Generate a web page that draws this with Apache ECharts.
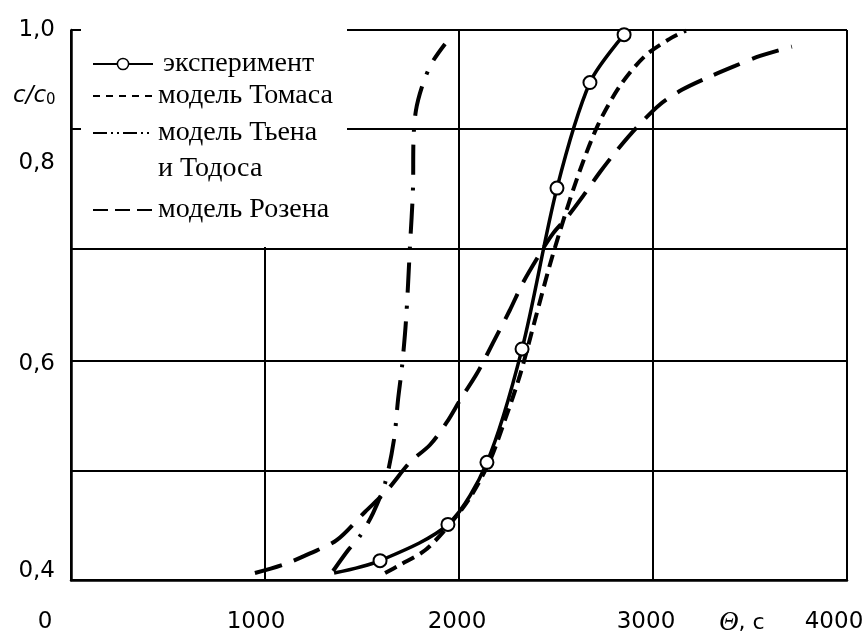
<!DOCTYPE html>
<html>
<head>
<meta charset="utf-8">
<script src="https://cdn.jsdelivr.net/npm/echarts@6/dist/echarts.min.js"></script>
<style>
  html, body { margin: 0; padding: 0; background: #fff; }
  #chart { width: 867px; height: 637px; }
</style>
</head>
<body>
<div id="chart"></div>
<script>
// Breakthrough curves: relative concentration c/c0 against time Θ, s

// experiment (first point is where the drawn curve begins, without a marker)
const expTime = [1356, 1593, 1943, 2144, 2325, 2505, 2675, 2851];
const expConc = [0.398, 0.410, 0.445, 0.505, 0.615, 0.775, 0.921, 0.993];

// Thomas model
const thomasTime = [1619, 1696, 1825, 1943, 2057, 2160, 2237, 2314, 2392, 2469, 2546, 2624, 2716, 2830, 2959, 3088, 3170];
const thomasConc = [0.398, 0.406, 0.420, 0.443, 0.471, 0.507, 0.546, 0.589, 0.644, 0.699, 0.748, 0.793, 0.857, 0.916, 0.961, 0.987, 0.999];

// Thiene & Todos model
const tienTime = [1351, 1428, 1490, 1557, 1619, 1665, 1686, 1706, 1727, 1747, 1763, 1765, 1778, 1814, 1861, 1928];
const tienConc = [0.400, 0.420, 0.434, 0.456, 0.485, 0.527, 0.566, 0.597, 0.644, 0.716, 0.776, 0.831, 0.879, 0.919, 0.951, 0.979];

// Rosen model
const rosenTime = [948, 1093, 1232, 1371, 1515, 1629, 1747, 1851, 1938, 2005, 2093, 2175, 2263, 2330, 2418, 2485, 2557, 2624, 2727, 2814, 2918, 3036, 3149, 3278, 3423, 3552, 3716];
const rosenConc = [0.398, 0.406, 0.417, 0.430, 0.457, 0.478, 0.505, 0.522, 0.544, 0.565, 0.591, 0.621, 0.654, 0.681, 0.710, 0.730, 0.746, 0.763, 0.791, 0.819, 0.854, 0.888, 0.910, 0.928, 0.946, 0.961, 0.975];

// axis ticks
const timeTicks = [0, 1000, 2000, 3000, 4000];
const concTicks = [0.4, 0.6, 0.8, 1.0];

const NAME_EXP = 'эксперимент';
const NAME_THOMAS = 'модель Томаса';
const NAME_TIEN = 'модель Тьена и Тодоса';
const NAME_ROSEN = 'модель Розена';

// The c/c0 scale is not uniform: each labelled value and its place
// along the axis (0 = bottom edge, 1 = top edge).
const concScalePlace = [0.0164, 0.3927, 0.7582, 1.0];
// horizontal rules, given as places along the same axis
const rulePlaces = [0, 0.198, 0.398, 0.602, 0.82, 1.0];

function concToAxis(c) {
  const k = concTicks, p = concScalePlace;
  let i = 0;
  while (i < k.length - 2 && c > k[i + 1]) i++;
  return p[i] + (c - k[i]) * (p[i + 1] - p[i]) / (k[i + 1] - k[i]);
}

function pairs(xs, cs) {
  return xs.map((x, i) => [x, concToAxis(cs[i])]);
}

const expData = pairs(expTime, expConc).map((v, i) =>
  i === 0 ? { value: v, symbol: 'none' } : { value: v });

const SANS = 'DejaVu Sans';
const SERIF = 'Liberation Serif';
const LEGEND_FONT = 28;
const TICK_FONT = 23;

function legendFor(name, top, extra) {
  return Object.assign({
    data: [name],
    orient: 'vertical',
    left: 92,
    top: top,
    padding: 0,
    itemGap: 0,
    itemWidth: 60,
    itemHeight: 14,
    selectedMode: false,
    textStyle: { fontFamily: SERIF, fontSize: LEGEND_FONT, color: '#000', lineHeight: 28 },
    itemStyle: { opacity: 0 },
    lineStyle: { width: 2, color: '#000' }
  }, extra);
}

const xPad = { 0: 52, 1000: 18, 2000: 4, 3000: 14, 4000: 26 };

const chart = echarts.init(document.getElementById('chart'), null, { renderer: 'canvas' });

chart.setOption({
  animation: false,
  backgroundColor: '#fff',
  grid: { left: 71, right: 20, top: 30, bottom: 57, containLabel: false, outerBoundsMode: 'none' },
  xAxis: {
    type: 'value',
    min: timeTicks[0],
    max: timeTicks[timeTicks.length - 1],
    interval: 1000,
    axisLine: { show: true, lineStyle: { color: '#000', width: 2.5 } },
    axisTick: { show: false },
    splitLine: { show: true, lineStyle: { color: '#000', width: 2 } },
    axisLabel: {
      margin: 31,
      color: '#000',
      fontFamily: SANS,
      fontSize: TICK_FONT,
      formatter: v => '{t' + v + '|' + v + '}',
      rich: Object.fromEntries(timeTicks.map(v => ['t' + v, {
        fontFamily: SANS, fontSize: TICK_FONT, color: '#000', padding: [0, xPad[v], 0, 0]
      }]))
    }
  },
  yAxis: {
    type: 'value',
    min: 0,
    max: 1,
    axisLine: { show: true, lineStyle: { color: '#000', width: 2.5 } },
    axisTick: { show: false, customValues: rulePlaces },
    splitLine: { show: true, lineStyle: { color: '#000', width: 2 } },
    axisLabel: {
      customValues: concTicks.map(concToAxis),
      margin: 16,
      color: '#000',
      fontFamily: SANS,
      fontSize: TICK_FONT,
      formatter: v => {
        let best = 0;
        concTicks.forEach((c, i) => {
          if (Math.abs(concToAxis(c) - v) < Math.abs(concToAxis(concTicks[best]) - v)) best = i;
        });
        return concTicks[best].toFixed(1).replace('.', ',');
      }
    }
  },
  legend: [
    legendFor(NAME_EXP, 50, {
      itemStyle: { color: '#fff', borderColor: '#000', borderWidth: 1.5 },
      textStyle: { fontFamily: SERIF, fontSize: LEGEND_FONT, color: '#000', lineHeight: 28, padding: [0, 0, 0, 5] }
    }),
    legendFor(NAME_THOMAS, 82, { lineStyle: { width: 2, color: '#000', type: [7, 6] } }),
    legendFor(NAME_TIEN, 79, {
      lineStyle: { width: 2, color: '#000', type: [14, 4, 2, 4, 2, 4] },
      // empty first line keeps the icon level with the first line of the name
      formatter: () => '\nмодель Тьена\nи Тодоса',
      textStyle: { fontFamily: SERIF, fontSize: LEGEND_FONT, color: '#000', lineHeight: 36 }
    }),
    legendFor(NAME_ROSEN, 196, { lineStyle: { width: 2, color: '#000', type: [15, 7] } })
  ],
  graphic: [
    { type: 'rect', z: 3, silent: true, shape: { x: 81, y: 22, width: 266, height: 225 }, style: { fill: '#fff' } },
    {
      type: 'text', z: 5, x: 13, y: 96,
      style: {
        text: '{i|c/c}{s|0}',
        verticalAlign: 'middle',
        rich: {
          i: { fontFamily: SANS, fontStyle: 'italic', fontSize: 23, fill: '#000' },
          s: { fontFamily: SANS, fontSize: 15, fill: '#000', verticalAlign: 'bottom' }
        }
      }
    },
    {
      type: 'text', z: 5, x: 719, y: 623,
      style: {
        text: '{t|Θ}{s|, c}',
        verticalAlign: 'middle',
        rich: {
          t: { fontFamily: SERIF, fontStyle: 'italic', fontSize: 27, fill: '#000' },
          s: { fontFamily: SANS, fontSize: 22, fill: '#000' }
        }
      }
    }
  ],
  series: [
    {
      name: NAME_ROSEN, type: 'line', smooth: 0.3, symbol: 'none', z: 2,
      data: pairs(rosenTime, rosenConc),
      lineStyle: { color: '#000', width: 4, type: [28, 13] }
    },
    {
      name: NAME_TIEN, type: 'line', smooth: 0.3, symbol: 'none', z: 2,
      data: pairs(tienTime, tienConc),
      lineStyle: { color: '#000', width: 4, type: [30, 13, 3, 13] }
    },
    {
      name: NAME_THOMAS, type: 'line', smooth: 0.3, symbol: 'none', z: 2,
      data: pairs(thomasTime, thomasConc),
      lineStyle: { color: '#000', width: 4, type: [13, 7] }
    },
    {
      name: NAME_EXP, type: 'line', smooth: 0.3, z: 3,
      symbol: 'circle', symbolSize: 13, showAllSymbol: true,
      data: expData,
      lineStyle: { color: '#000', width: 3.5 },
      itemStyle: { color: '#fff', borderColor: '#000', borderWidth: 2 }
    }
  ]
});
</script>
</body>
</html>
